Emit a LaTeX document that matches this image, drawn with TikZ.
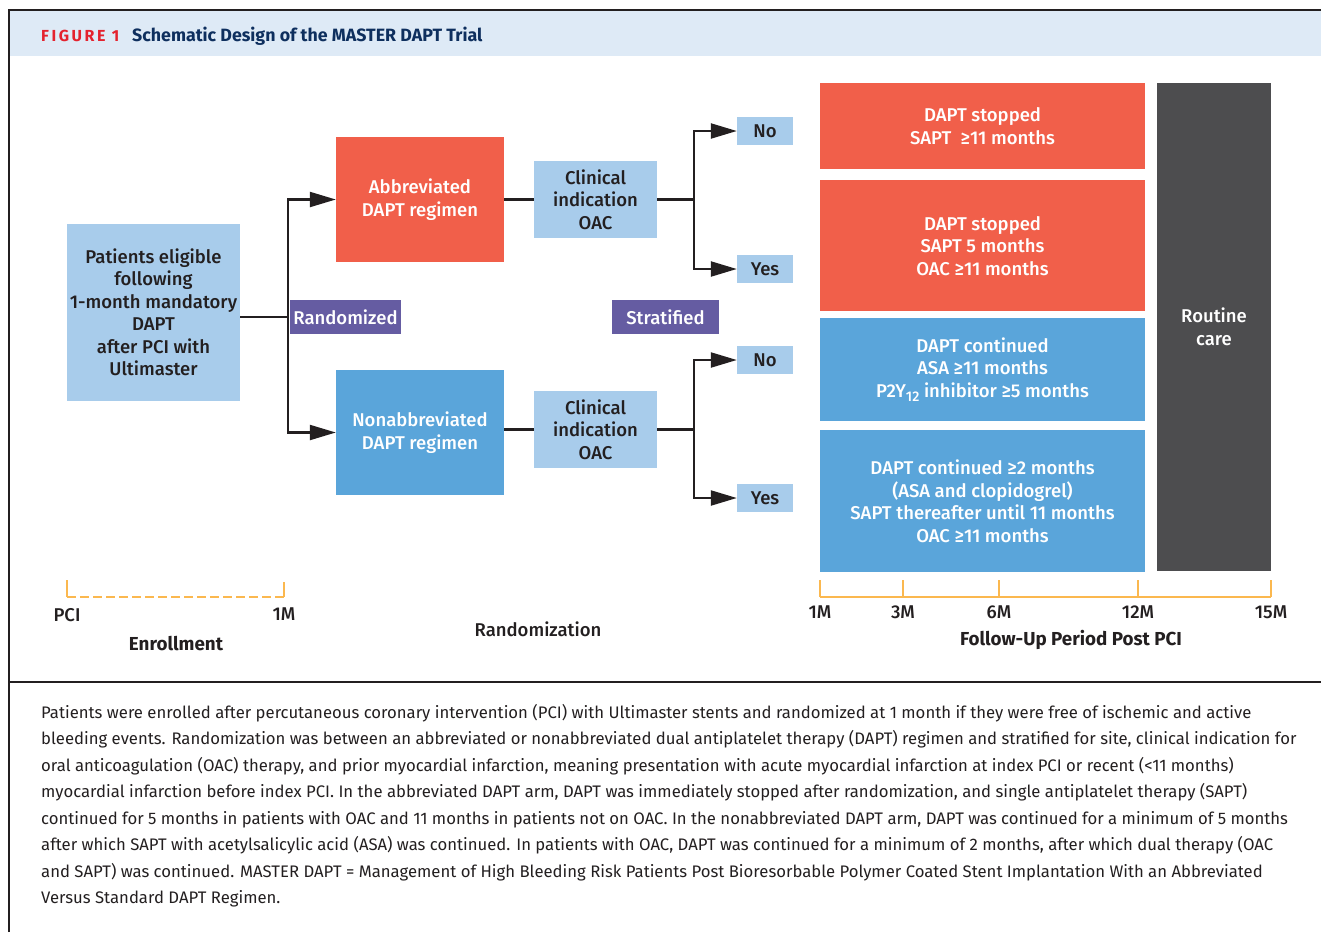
\documentclass[tikz,border=0pt]{standalone}
\usepackage{fontspec}
\setmainfont{Fira Sans}
\newfontfamily\medfont{Fira Sans}[UprightFont={* Medium}]
\newfontfamily\figfont[LetterSpace=16]{Fira Sans}
\usetikzlibrary{arrows.meta,positioning}
\definecolor{trialred}{HTML}{F15F4A}
\definecolor{trialblue}{HTML}{5AA5DA}
\definecolor{paleblue}{HTML}{A8CCEB}
\definecolor{tagpurple}{HTML}{655CA2}
\definecolor{routinegray}{HTML}{4D4D4F}
\definecolor{axisorange}{HTML}{FBB84F}
\definecolor{headbg}{HTML}{DEEAF6}
\definecolor{headred}{HTML}{E4222E}
\definecolor{headnavy}{HTML}{0E2F5E}
\definecolor{ink}{HTML}{231F20}

\begin{document}
\begin{tikzpicture}[x=1pt,y=-1pt,
	every node/.style={inner sep=0pt,text=ink},
	box/.style={align=center,font=\fontsize{18.5}{22.5}\medfont},
	redbox/.style={box,fill=trialred,text=white,minimum width=325pt},
	bluebox/.style={box,fill=trialblue,text=white,minimum width=325pt},
	pale/.style={box,fill=paleblue},
	answer/.style={pale,minimum width=56pt,minimum height=28pt},
	tag/.style={box,fill=tagpurple,text=white,minimum height=34pt},
	link/.style={line width=2.2pt,ink},
	arr/.style={link,-{Triangle[length=26pt,width=15pt]}},
	axis/.style={line width=2.6pt,axisorange},
	ticklabel/.style={font=\fontsize{18.5}{20}\medfont},
	period/.style={font=\fontsize{18.8}{20}\selectfont\bfseries},
]
	\useasboundingbox (0,0) rectangle (1321,932);
	\fill[headbg] (9,11) rectangle (1321,56);
	\draw[line width=2pt,ink] (9,932) -- (9,10) -- (1321,10);
	\draw[line width=2pt,ink] (9,682) -- (1321,682);

	\node[anchor=base west,text=headred,font=\fontsize{16}{16}\figfont\bfseries] (fig) at (41,41) {FIGURE 1};
	\node[anchor=base west,text=headnavy,font=\fontsize{17.8}{18}\selectfont\bfseries] (title) at (132,41) {Schematic Design of the MASTER DAPT Trial};

	\node[pale,minimum width=173pt,minimum height=177pt] (pat) at (153.5,312.5) {Patients eligible\\following\\1-month mandatory\\DAPT\\after PCI with\\Ultimaster};

	\node[redbox,minimum width=168pt,minimum height=125pt] (abb) at (420,199.5) {Abbreviated\\DAPT regimen};
	\node[bluebox,minimum width=168pt,minimum height=125pt] (non) at (420,432.5) {Nonabbreviated\\DAPT regimen};

	\node[pale,minimum width=123pt,minimum height=77pt] (clin1) at (595.5,199.5) {Clinical\\indication\\OAC};
	\node[pale,minimum width=123pt,minimum height=77pt] (clin2) at (595.5,429.5) {Clinical\\indication\\OAC};

	\node[answer] (no1) at (765,131) {No};
	\node[answer] (yes1) at (765,269) {Yes};
	\node[answer] (no2) at (765,360) {No};
	\node[answer] (yes2) at (765,498) {Yes};

	\node[tag,minimum width=111pt] (rand) at (345.5,317) {Randomized};
	\node[tag,minimum width=107pt] (strat) at (665.5,317) {Stratified};

	\node[redbox,minimum height=86pt] (r1) at (982.5,126) {DAPT stopped\\SAPT \ ≥11 months};
	\node[redbox,minimum height=131pt,below=11pt of r1] (r2) {DAPT stopped\\SAPT 5 months\\OAC ≥11 months};
	\node[bluebox,minimum height=103pt,below=6pt of r2] (b1) {DAPT continued\\ASA ≥11 months\\P2Y\raisebox{-0.4ex}{\fontsize{14}{14}\medfont 12} inhibitor ≥5 months};
	\node[bluebox,minimum height=142pt,below=9pt of b1] (b2) {DAPT continued ≥2 months\\(ASA and clopidogrel)\\SAPT thereafter until 11 months\\OAC ≥11 months};
	\node[box,fill=routinegray,text=white,minimum width=114pt,minimum height=488pt] (routine) at (1214,327) {Routine\\care};

	\coordinate (split) at (288,317);
	\coordinate (fork1) at (694,199.5);
	\coordinate (fork2) at (694,429.5);
	\draw[link] (pat.east |- split) -- (split);
	\draw[arr] (split) |- (abb.west);
	\draw[arr] (split) |- (non.west);
	\draw[link] (abb) -- (clin1);
	\draw[link] (non.east |- clin2) -- (clin2);
	\draw[link] (clin1) -- (fork1);
	\draw[link] (clin2) -- (fork2);
	\draw[arr] (fork1) |- (no1.west);
	\draw[arr] (fork1) |- (yes1.west);
	\draw[arr] (fork2) |- (no2.west);
	\draw[arr] (fork2) |- (yes2.west);

	\coordinate (e0) at (67,597);
	\coordinate (e1) at (284,597);
	\draw[axis,dash pattern=on 9pt off 4pt] (e0) -- (e1);
	\draw[axis] (e0) -- ++(0,-17);
	\draw[axis] (e1) -- ++(0,-15);
	\node[ticklabel,below=11pt of e0] (pci) {PCI};
	\node[ticklabel,below=11pt of e1] (m1) {1M};
	\node[period] (enrol) at (176,644) {Enrollment};
	\node[font=\fontsize{18.5}{20}\medfont] (randlbl) at (538,629) {Randomization};

	\coordinate (f1) at (820,597);
	\coordinate (f3) at (903,597);
	\coordinate (f6) at (999,597);
	\coordinate (f12) at (1138,597);
	\coordinate (f15) at (1271,597);
	\draw[axis] (f1) -- (f15);
	\foreach \t/\l in {f1/1M,f3/3M,f6/6M,f12/12M,f15/15M}{
		\draw[axis] (\t) -- ++(0,-17);
		\node[ticklabel,below=9pt of \t] {\l};
	}
	\node[period] (follow) at (1071,640) {Follow-Up Period Post PCI};

	\node[anchor=north west,align=left,font=\fontsize{16.7}{26.5}\selectfont] (caption) at (41,704) {Patients were enrolled after percutaneous coronary intervention (PCI) with Ultimaster stents and randomized at 1 month if they were free of ischemic and active\\
bleeding events. Randomization was between an abbreviated or nonabbreviated dual antiplatelet therapy (DAPT) regimen and stratified for site, clinical indication for\\
oral anticoagulation (OAC) therapy, and prior myocardial infarction, meaning presentation with acute myocardial infarction at index PCI or recent (<11 months)\\
myocardial infarction before index PCI. In the abbreviated DAPT arm, DAPT was immediately stopped after randomization, and single antiplatelet therapy (SAPT)\\
continued for 5 months in patients with OAC and 11 months in patients not on OAC. In the nonabbreviated DAPT arm, DAPT was continued for a minimum of 5 months\\
after which SAPT with acetylsalicylic acid (ASA) was continued. In patients with OAC, DAPT was continued for a minimum of 2 months, after which dual therapy (OAC\\
and SAPT) was continued. MASTER DAPT = Management of High Bleeding Risk Patients Post Bioresorbable Polymer Coated Stent Implantation With an Abbreviated\\
Versus Standard DAPT Regimen.};
\end{tikzpicture}
\end{document}
